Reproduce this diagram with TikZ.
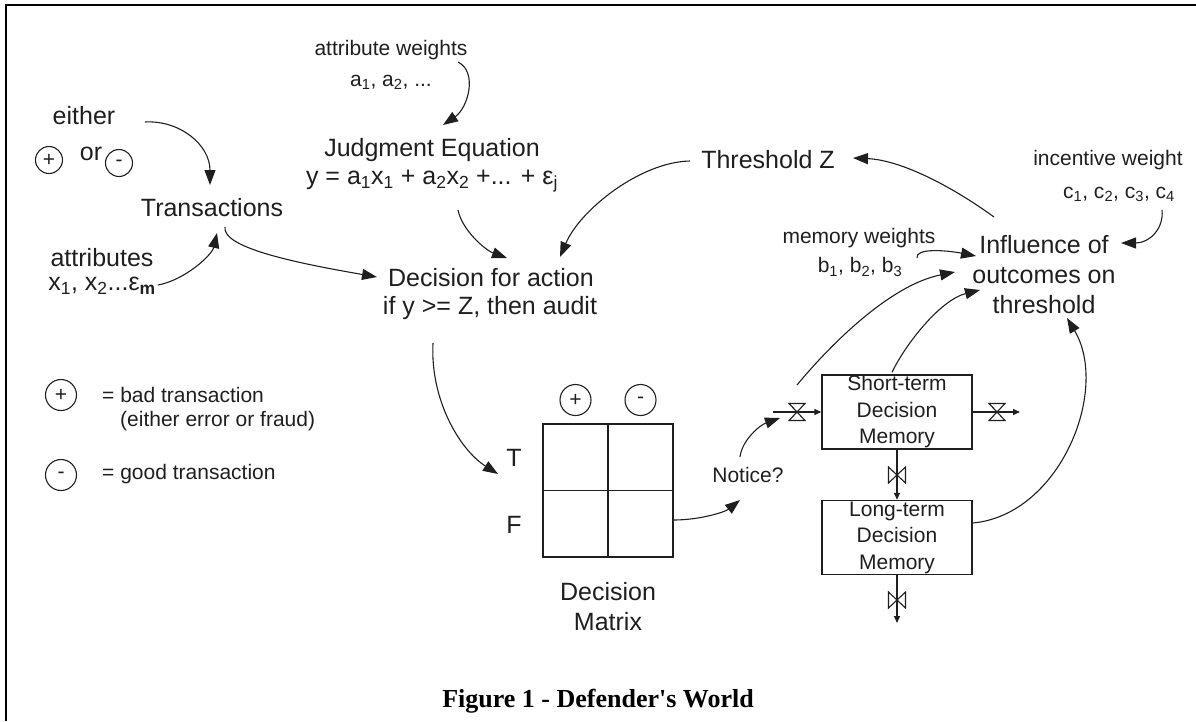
\documentclass[tikz,border=0pt]{standalone}
\usepackage{fontspec}
\setmainfont{Liberation Sans}
\newfontfamily\captionfont{Liberation Serif}
\usetikzlibrary{arrows.meta,calc}

\colorlet{ink}{black!88}
\tikzset{
  big/.style={font=\fontsize{25}{30}\selectfont, inner sep=0pt, align=center, text=ink},
  small/.style={font=\fontsize{21}{26.5}\selectfont, inner sep=0pt, align=center, text=ink},
  link/.style={draw=ink, line width=1.1pt, -{Triangle[length=15pt,width=11pt]}},
  flow/.style={draw=ink, line width=1.4pt, -{Triangle[length=7pt,width=6pt]}},
  sign/.style={draw=ink, text=ink, circle, line width=1.1pt, inner sep=0pt, font=\fontsize{21}{21}\selectfont},
  memorybox/.style={draw=ink, text=ink, line width=1.4pt, minimum width=150pt, minimum height=74pt,
    inner sep=0pt, align=center, font=\fontsize{21}{26.5}\selectfont},
  valve/.pic={\draw[ink, line width=1.1pt] (-8,-8.5) -- (8,-8.5) -- (-8,8.5) -- (8,8.5) -- cycle;}
}

\begin{document}
\begin{tikzpicture}[x=1pt,y=-1pt]
\useasboundingbox (0,0) rectangle (1196,721);

% frame (top and left edges)
\draw[line width=2.2pt] (6,721) -- (6,5) -- (1196,5);

% ---- left: transactions ----
\node[big] (either) at (84,116) {either};
\node[sign, minimum size=27pt] (plusA) at (49,160) {+};
\node[big] (or) at (91,154) {or};
\node[sign, minimum size=27pt] (minusA) at (119,163) {-};
\node[big] (trans) at (212,208) {Transactions};
\node[big] (attr) at (102,258) {attributes};
\node[big] (xs) at (102,286) {x\textsubscript{1}, x\textsubscript{2}...ε\textsubscript{\textbf{m}}};

% ---- judgment equation ----
\node[small] (attrw) at (391,50) {attribute weights};
\node[small] (attra) at (391,82) {a\textsubscript{1}, a\textsubscript{2}, ...};
\node[big] (judg) at (432,150) {Judgment Equation};
\node[big] (eq) at (432,181) {y = a\textsubscript{1}x\textsubscript{1} + a\textsubscript{2}x\textsubscript{2} +... + ε\textsubscript{j}};

% ---- decision ----
\node[big] (dec1) at (491,278) {Decision for action};
\node[big] (dec2) at (490,308) {if y >= Z, then audit};

% ---- threshold side ----
\node[big] (thr) at (768,160) {Threshold Z};
\node[small] (incw) at (1108,160) {incentive weight};
\node[small] (cs) at (1119,194) {c\textsubscript{1}, c\textsubscript{2}, c\textsubscript{3}, c\textsubscript{4}};
\node[small] (memw) at (859,238) {memory weights};
\node[small] (bs) at (860,267) {b\textsubscript{1}, b\textsubscript{2}, b\textsubscript{3}};
\node[big] (infl) at (1044,275) {Influence of\\outcomes on\\threshold};

% ---- legend ----
\node[sign, minimum size=31pt] (plusL) at (61,395) {+};
\node[small, anchor=west] (badL) at (102,395) {= bad transaction};
\node[small, anchor=west] (badL2) at (120,421) {(either error or fraud)};
\node[sign, minimum size=31pt] (minusL) at (61,475) {-};
\node[small, anchor=west] (goodL) at (102,474) {= good transaction};

% ---- decision matrix ----
\node[draw=ink, line width=1.3pt, minimum width=130pt, minimum height=133pt, inner sep=0pt] (dm) at (608,490.5) {};
\draw[ink, line width=1.3pt] (dm.north) -- (dm.south) (dm.west) -- (dm.east);
\node[sign, minimum size=31pt] (plusM) at (575.5,400) {+};
\node[sign, minimum size=31pt] (minusM) at (640.5,400) {-};
\node[big] (T) at (514,458) {T};
\node[big] (F) at (514,525) {F};
\node[big] (dmlabel) at (608,607) {Decision\\Matrix};
\node[small] (notice) at (748,475) {Notice?};

% ---- decision memory stocks and flows ----
\node[memorybox] (short) at (897,412) {Short-term\\Decision\\Memory};
\node[memorybox] (long) at (897,537.5) {Long-term\\Decision\\Memory};
\coordinate (source) at (773,412);
\coordinate (outend) at (1020,412);
\coordinate (sinkend) at (897,623);
\coordinate (v1) at (797,412);
\draw[flow] (source) -- (short.west);
\draw[flow] (short.east) -- (outend);
\draw[flow] (short.south) -- (long.north);
\draw[flow] (long.south) -- (sinkend);
\pic at (797,412) {valve};
\pic at (997,412) {valve};
\pic[rotate=90] at (897,475) {valve};
\pic[rotate=90] at (897,600) {valve};

% ---- causal links ----
\draw[link] ($(either)+(61,6)$) .. controls (180,120) and (210,145) .. ($(trans)+(-2,-23)$);
\draw[link] ($(xs)+(56,-1)$) .. controls (185,280) and (212,255) .. ($(trans)+(5,25)$);
\draw[link] ($(trans)+(13,19)$) .. controls (222,247) and (290,262) .. ($(dec1)+(-114,-1)$);
\draw[link] ($(attrw)+(67,12)$) .. controls (478,72) and (468,108) .. ($(judg)+(11,-25)$);
\draw[link] ($(eq)+(26,29)$) .. controls (462,230) and (485,250) .. ($(dec1)+(16,-20)$);
\draw[link] ($(thr)+(-78,1)$) .. controls (640,162) and (580,210) .. ($(dec1)+(69,-21)$);
\draw[link] ($(dec2)+(-57,35)$) .. controls (430,400) and (460,450) .. ($(T)+(-16,16)$);
\draw[link] ($(dm.east)+(0,29.5)$) .. controls (700,520) and (725,512) .. ($(notice)+(-8,25)$);
\draw[link] ($(notice)+(-8,-18)$) .. controls (742,440) and (760,425) .. ($(v1)+(-17,6)$);
\draw[link] ($(v1)+(0,-27)$) .. controls (830,345) and (890,285) .. ($(infl)+(-89,-3)$);
\draw[link] ($(short.north)+(-5,-2)$) .. controls (905,345) and (940,300) .. ($(infl)+(-64,15)$);
\draw[link] ($(long.east)+(0,-14.5)$) .. controls (1060,515) and (1110,390) .. ($(infl)+(23,43)$);
\draw[link] ($(bs)+(57,-9)$) .. controls (915,248) and (945,250) .. ($(infl)+(-68,-19)$);
\draw[link] ($(cs)+(43,16)$) .. controls (1164,228) and (1150,243) .. ($(infl)+(77,-32)$);
\draw[link] ($(infl)+(-50,-58)$) .. controls (950,185) and (900,160) .. ($(thr)+(85,-2)$);

% ---- caption ----
\node[font=\captionfont\bfseries\fontsize{26}{30}\selectfont, inner sep=0pt] (cap) at (598,701) {Figure 1 - Defender's World};
\end{tikzpicture}
\end{document}
